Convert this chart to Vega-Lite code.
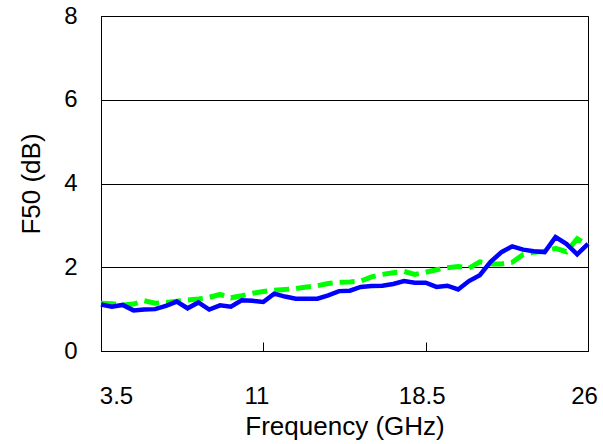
{
  "$schema": "https://vega.github.io/schema/vega-lite/v6.json",
  "width": 487,
  "height": 335,
  "autosize": {"type": "none"},
  "padding": {"left": 101, "top": 16, "right": 15, "bottom": 93},
  "background": "white",
  "config": {
    "view": {"stroke": "#000000", "strokeWidth": 1},
    "font": "Liberation Sans"
  },
  "datasets": {
    "blue": [
      {"f": 3.5, "v": 1.11}, {"f": 4.0, "v": 1.06}, {"f": 4.5, "v": 1.10}, {"f": 5.0, "v": 0.97},
      {"f": 5.5, "v": 0.99}, {"f": 6.0, "v": 1.00}, {"f": 6.5, "v": 1.08}, {"f": 7.0, "v": 1.18},
      {"f": 7.5, "v": 1.02}, {"f": 8.0, "v": 1.16}, {"f": 8.5, "v": 0.99}, {"f": 9.0, "v": 1.09},
      {"f": 9.5, "v": 1.06}, {"f": 10.0, "v": 1.21}, {"f": 10.5, "v": 1.20}, {"f": 11.0, "v": 1.17},
      {"f": 11.5, "v": 1.37}, {"f": 12.0, "v": 1.30}, {"f": 12.5, "v": 1.25}, {"f": 13.0, "v": 1.25},
      {"f": 13.5, "v": 1.25}, {"f": 14.0, "v": 1.33}, {"f": 14.5, "v": 1.43}, {"f": 15.0, "v": 1.44},
      {"f": 15.5, "v": 1.53}, {"f": 16.0, "v": 1.55}, {"f": 16.5, "v": 1.56}, {"f": 17.0, "v": 1.60},
      {"f": 17.5, "v": 1.67}, {"f": 18.0, "v": 1.63}, {"f": 18.5, "v": 1.63}, {"f": 19.0, "v": 1.53},
      {"f": 19.5, "v": 1.56}, {"f": 20.0, "v": 1.47}, {"f": 20.5, "v": 1.67}, {"f": 21.0, "v": 1.81},
      {"f": 21.5, "v": 2.13}, {"f": 22.0, "v": 2.36}, {"f": 22.5, "v": 2.50}, {"f": 23.0, "v": 2.42},
      {"f": 23.5, "v": 2.38}, {"f": 24.0, "v": 2.36}, {"f": 24.5, "v": 2.72}, {"f": 25.0, "v": 2.56},
      {"f": 25.5, "v": 2.31}, {"f": 26.0, "v": 2.56}
    ],
    "green": [
      {"f": 3.5, "v": 1.14}, {"f": 4.0, "v": 1.13}, {"f": 4.5, "v": 1.10}, {"f": 5.0, "v": 1.12},
      {"f": 5.5, "v": 1.20}, {"f": 6.0, "v": 1.14}, {"f": 6.5, "v": 1.16}, {"f": 7.0, "v": 1.19},
      {"f": 7.5, "v": 1.22}, {"f": 8.0, "v": 1.24}, {"f": 8.5, "v": 1.28}, {"f": 9.0, "v": 1.35},
      {"f": 9.5, "v": 1.27}, {"f": 10.0, "v": 1.32}, {"f": 10.5, "v": 1.38}, {"f": 11.0, "v": 1.42},
      {"f": 11.5, "v": 1.45}, {"f": 12.0, "v": 1.47}, {"f": 12.5, "v": 1.49}, {"f": 13.0, "v": 1.53},
      {"f": 13.5, "v": 1.56}, {"f": 14.0, "v": 1.61}, {"f": 14.5, "v": 1.64}, {"f": 15.0, "v": 1.65},
      {"f": 15.5, "v": 1.67}, {"f": 16.0, "v": 1.77}, {"f": 16.5, "v": 1.83}, {"f": 17.0, "v": 1.87},
      {"f": 17.5, "v": 1.90}, {"f": 18.0, "v": 1.83}, {"f": 18.5, "v": 1.88}, {"f": 19.0, "v": 1.94},
      {"f": 19.5, "v": 1.99}, {"f": 20.0, "v": 2.02}, {"f": 20.5, "v": 1.98}, {"f": 21.0, "v": 2.13},
      {"f": 21.5, "v": 2.08}, {"f": 22.0, "v": 2.08}, {"f": 22.5, "v": 2.12}, {"f": 23.0, "v": 2.30},
      {"f": 23.5, "v": 2.36}, {"f": 24.0, "v": 2.38}, {"f": 24.5, "v": 2.45}, {"f": 25.0, "v": 2.37},
      {"f": 25.5, "v": 2.68}, {"f": 26.0, "v": 2.52}
    ]
  },
  "encoding": {
    "x": {
      "field": "f", "type": "quantitative",
      "scale": {"domain": [3.5, 26], "nice": false, "zero": false},
      "axis": {
        "title": "Frequency (GHz)",
        "values": [3.5, 11, 18.5, 26],
        "format": ".3~r",
        "grid": false,
        "domainColor": "#000000",
        "tickColor": "#000000",
        "tickSize": -9,
        "labelFontSize": 24,
        "labelColor": "#000000",
        "labelBaseline": "alphabetic",
        "labelPadding": 61,
        "labelFlush": false,
        "labelOverlap": false,
        "labelOffset": {"condition": [{"test": "datum.value == 3.5", "value": 15}, {"test": "datum.value == 11", "value": -7}], "value": -4},
        "titleFontSize": 26,
        "titleFontWeight": "normal",
        "titleColor": "#000000",
        "titleBaseline": "alphabetic",
        "titlePadding": 26
      }
    },
    "y": {
      "field": "v", "type": "quantitative",
      "scale": {"domain": [0, 8], "nice": false},
      "axis": {
        "title": "F50 (dB)",
        "values": [0, 2, 4, 6, 8],
        "grid": true,
        "gridColor": "#000000",
        "gridWidth": 1,
        "ticks": false,
        "domainColor": "#000000",
        "labelFontSize": 24,
        "labelColor": "#000000",
        "labelPadding": 24,
        "labelFlush": false,
        "titleFontSize": 26,
        "titleFontWeight": "normal",
        "titleColor": "#000000",
        "titlePadding": 19
      }
    }
  },
  "layer": [
    {
      "data": {"name": "green"},
      "mark": {"type": "line", "color": "#00ff00", "strokeWidth": 5, "strokeDash": [15, 7]}
    },
    {
      "data": {"name": "blue"},
      "mark": {"type": "line", "color": "#0000ff", "strokeWidth": 4.5}
    }
  ]
}
